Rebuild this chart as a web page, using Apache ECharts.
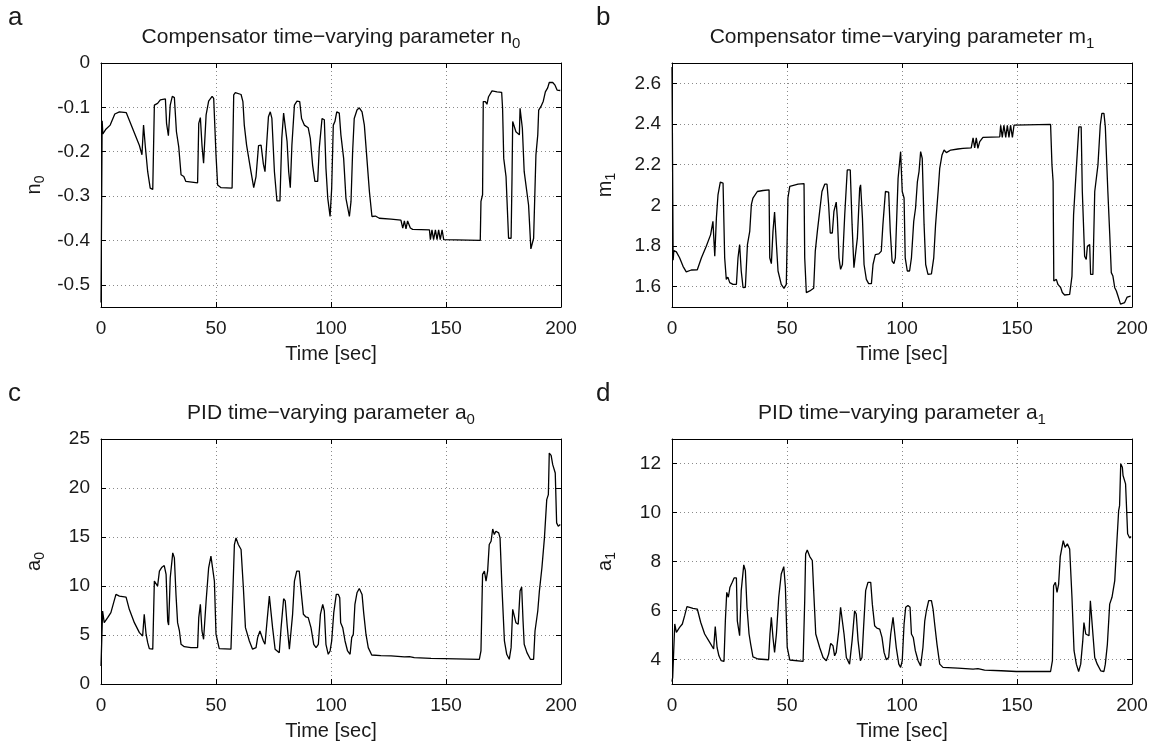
<!DOCTYPE html>
<html><head><meta charset="utf-8">
<script src="https://cdn.jsdelivr.net/npm/echarts@6/dist/echarts.min.js"></script>
<style>html,body{margin:0;padding:0;background:#fff}#c{width:1158px;height:746px}</style>
</head><body><div id="c"></div>
<script>
// ---- data (time [sec], value) ----
const n0Data = [[0,-0.54],[0.5,-0.13],[0.8,-0.16],[2,-0.15],[4,-0.14],[6,-0.115],[8,-0.11],[11,-0.112],[16.7,-0.186],[17.8,-0.207],[18.5,-0.14],[19.3,-0.19],[20.3,-0.245],[21.4,-0.282],[22.5,-0.285],[23.2,-0.095],[23.9,-0.098],[24.6,-0.091],[25.8,-0.083],[28,-0.081],[28.5,-0.136],[29.3,-0.164],[30.1,-0.095],[31,-0.075],[31.9,-0.078],[32.8,-0.155],[33.8,-0.189],[34.8,-0.252],[36,-0.256],[36.9,-0.267],[42,-0.27],[42.5,-0.136],[43.2,-0.123],[43.9,-0.185],[44.6,-0.226],[45.7,-0.117],[46.8,-0.086],[48.3,-0.075],[49,-0.08],[50,-0.207],[50.7,-0.275],[52.2,-0.281],[57,-0.282],[57.7,-0.072],[58.4,-0.067],[60.9,-0.071],[61.7,-0.087],[62.3,-0.14],[63.3,-0.185],[65.2,-0.245],[66.4,-0.281],[67.4,-0.256],[68.5,-0.186],[69.6,-0.185],[70.6,-0.228],[71.3,-0.245],[72,-0.185],[72.8,-0.121],[73.6,-0.11],[74.3,-0.125],[75.4,-0.245],[76.5,-0.311],[77.8,-0.311],[78.6,-0.17],[79.4,-0.113],[80.1,-0.117],[80.9,-0.177],[81.6,-0.245],[82.3,-0.281],[83,-0.185],[84.1,-0.095],[85.2,-0.086],[86.4,-0.087],[87.2,-0.125],[88.4,-0.14],[90.1,-0.146],[91,-0.17],[92,-0.23],[93,-0.267],[94.2,-0.267],[94.9,-0.192],[96.1,-0.125],[97.1,-0.128],[97.8,-0.237],[98.6,-0.305],[99.6,-0.346],[100.3,-0.282],[101,-0.14],[101.7,-0.132],[102.5,-0.11],[103.6,-0.113],[104.3,-0.162],[105.5,-0.215],[106.5,-0.305],[108,-0.346],[108.7,-0.312],[109.4,-0.2],[110.1,-0.125],[111.3,-0.106],[112.3,-0.101],[113.5,-0.11],[114.5,-0.14],[115.6,-0.215],[116.7,-0.29],[117.8,-0.346],[119.3,-0.345],[121,-0.35],[126.1,-0.352],[130.4,-0.354],[131.2,-0.372],[131.9,-0.356],[132.6,-0.374],[133.3,-0.356],[134.5,-0.372],[135.5,-0.375],[142.8,-0.376],[143.2,-0.398],[143.9,-0.376],[144.6,-0.398],[145.4,-0.376],[146.1,-0.398],[146.8,-0.376],[147.5,-0.398],[148.3,-0.376],[149,-0.398],[149.7,-0.398],[164.9,-0.4],[165.2,-0.312],[165.9,-0.297],[166.2,-0.087],[167.1,-0.087],[167.8,-0.093],[168.5,-0.076],[169.3,-0.076],[170,-0.063],[172.2,-0.065],[174.2,-0.066],[174.6,-0.102],[175.1,-0.215],[176.1,-0.256],[177.2,-0.395],[178.3,-0.395],[178.7,-0.26],[179,-0.132],[179.7,-0.131],[180.4,-0.155],[181.2,-0.158],[181.9,-0.162],[182.2,-0.102],[182.9,-0.101],[183.2,-0.147],[184,-0.245],[185.9,-0.32],[186.9,-0.419],[187.7,-0.421],[188.1,-0.395],[188.8,-0.395],[189.1,-0.207],[189.9,-0.162],[190.3,-0.106],[191.3,-0.098],[192.3,-0.086],[193.2,-0.065],[194.2,-0.056],[194.9,-0.044],[196.4,-0.044],[197.4,-0.05],[198.3,-0.061],[199.7,-0.062]];

const m1Data = [[0,2.68],[0.5,1.73],[0.8,1.778],[1.9,1.771],[3.3,1.742],[4.8,1.70],[6.2,1.673],[8.4,1.682],[11,1.683],[12.8,1.742],[14.9,1.799],[16.8,1.856],[17.8,1.921],[18.6,1.75],[19.3,1.938],[20,2.052],[21,2.114],[22.2,2.109],[22.9,1.742],[23.6,1.636],[24.3,1.647],[25.1,1.62],[26.5,1.611],[28,1.611],[28.7,1.742],[29.4,1.807],[30.1,1.677],[30.9,1.595],[31.9,1.597],[32.8,1.807],[33.8,1.872],[34.5,2.003],[35.2,2.036],[35.9,2.036],[37.1,2.068],[39.6,2.073],[42.2,2.076],[42.5,1.742],[43.2,1.713],[43.9,1.872],[44.6,1.967],[45.4,1.807],[46.1,1.677],[47.5,1.611],[48.7,1.592],[49.7,1.611],[50.4,2.036],[51.2,2.093],[51.9,2.101],[54.8,2.104],[57.4,2.107],[57.7,1.742],[58.4,1.571],[59.9,1.579],[61.6,1.592],[62.3,1.775],[63.2,1.872],[64.2,1.97],[65.2,2.068],[66.4,2.104],[67.4,2.104],[68.1,2.003],[68.8,1.864],[69.7,1.864],[70.4,1.97],[71.4,2.016],[71.9,1.938],[72.6,1.742],[73.3,1.685],[74.1,1.709],[75.1,1.954],[76.2,2.174],[77.5,2.174],[78.3,1.905],[79.1,1.693],[79.9,1.693],[80.6,1.84],[81.6,2.084],[82,2.101],[82.8,1.938],[83.5,1.709],[84.5,1.636],[85.5,1.615],[86.7,1.615],[87.4,1.709],[88.4,1.758],[89.9,1.761],[91,1.775],[91.7,1.905],[92.8,2.068],[94.2,2.065],[94.9,1.872],[95.7,1.726],[96.5,1.713],[97.1,1.742],[98.3,2.133],[99.4,2.264],[100.1,2.068],[100.9,2.036],[101.4,1.742],[102.3,1.677],[103.3,1.677],[104.1,1.742],[105.1,1.921],[105.9,1.987],[106.7,2.117],[107.4,2.166],[108.1,2.264],[108.8,2.231],[109.6,1.905],[110.3,1.709],[111.3,1.66],[112.8,1.663],[113.8,1.742],[114.6,1.905],[115.7,2.068],[116.4,2.182],[117.4,2.248],[118.3,2.272],[119.3,2.259],[121.2,2.272],[124.3,2.277],[126.5,2.28],[130.1,2.283],[130.9,2.332],[131.6,2.283],[132.3,2.332],[133,2.28],[133.8,2.313],[135.2,2.334],[142.5,2.337],[142.9,2.394],[143.6,2.334],[144.3,2.394],[145.1,2.334],[145.8,2.394],[146.5,2.334],[147.2,2.394],[148,2.334],[148.7,2.394],[149.4,2.398],[164.6,2.398],[165.2,2.199],[165.7,2.117],[166,1.628],[167.1,1.636],[167.8,1.611],[169,1.595],[169.7,1.571],[170.7,1.559],[172.9,1.562],[173.9,1.652],[174.6,1.954],[175.8,2.182],[176.9,2.386],[177.9,2.386],[178.4,2.068],[179.4,1.75],[180.1,1.734],[180.6,1.799],[181.6,1.807],[182,1.66],[183,1.66],[183.8,2.068],[185.2,2.199],[186.2,2.394],[186.9,2.452],[187.8,2.452],[188.4,2.386],[188.9,2.386],[189.5,2.068],[190.3,1.864],[191,1.669],[191.7,1.652],[192.5,1.595],[193.2,1.579],[193.9,1.554],[195,1.514],[195.8,1.511],[196.8,1.522],[197.9,1.549],[199.4,1.554]];

const a0Data = [[0,1.84],[0.7,7.45],[1.4,6.26],[2.9,6.77],[4.3,7.28],[5.5,8.3],[6.5,9.14],[8,8.97],[10.9,8.87],[12.3,7.62],[14.5,6.26],[16.7,5.24],[18.1,4.9],[18.8,7.11],[19.6,5.08],[20.3,4.22],[21,3.61],[22.5,3.55],[23.2,10.5],[23.9,10.67],[24.6,9.99],[25.4,11.52],[26.5,11.92],[27.5,12.09],[28.3,11.18],[29,6.43],[29.4,6.02],[30.1,10.84],[31.2,13.38],[31.9,12.87],[32.6,9.14],[33.3,6.26],[34.1,5.41],[34.8,4.05],[36.2,3.81],[39.1,3.71],[42,3.71],[42.5,6.77],[43.2,8.13],[43.9,5.41],[44.6,4.56],[45.7,8.47],[46.8,11.86],[47.8,13.05],[48.6,13.22],[49.3,10.5],[50,5.08],[51.4,3.61],[56.5,3.55],[57.2,8.47],[58,14.23],[58.7,14.91],[59.7,14.23],[60.9,13.72],[61.9,9.82],[62.8,5.75],[64.5,4.39],[65.9,3.55],[67.4,3.71],[68.1,4.73],[69.1,5.41],[69.9,5.41],[70.6,4.39],[71.3,4.05],[72.2,6.43],[73.2,8.97],[73.9,8.8],[74.6,5.75],[75.7,3.55],[77.5,3.2],[78.3,5.75],[79.4,8.7],[80.1,8.47],[80.9,6.09],[81.9,3.55],[82.6,3.71],[83.3,7.11],[84.1,10.5],[85.1,11.52],[86.2,11.52],[87,9.48],[88,7.11],[89.1,6.84],[90.1,6.77],[91.3,5.75],[92.5,4.05],[93.5,3.71],[94.5,4.05],[95.4,7.11],[96.4,8.13],[97.1,7.45],[97.8,4.05],[98.8,3.03],[99.6,3.37],[100.3,4.39],[101.2,7.28],[101.7,8.13],[102.3,9.14],[103.2,9.14],[103.8,8.8],[104.2,6.26],[105.1,5.75],[106.1,4.39],[107.2,3.37],[108.3,3.03],[109,4.73],[109.7,5.08],[110.4,8.13],[111.3,9.31],[112.3,9.75],[113.5,9.14],[114.2,7.28],[115.2,5.08],[116.2,3.71],[117.7,2.96],[121.7,2.89],[126.1,2.86],[131.9,2.76],[134.1,2.8],[136.2,2.69],[143.5,2.62],[149.3,2.59],[164.5,2.52],[165.2,3.37],[165.9,11.18],[166.7,11.52],[167.4,10.5],[168.1,11.52],[168.8,14.23],[169.6,14.57],[170.3,15.82],[171,15.25],[171.7,15.59],[172.9,15.42],[173.5,14.91],[174.3,9.99],[175.4,4.39],[176.4,3.03],[177.5,2.52],[178.3,3.71],[179,7.62],[179.7,7.72],[180.4,6.26],[181.4,6.09],[182.2,9.48],[182.9,9.89],[183.5,6.43],[184,4.05],[185.2,3.2],[186.7,2.52],[188.1,2.52],[188.7,5.41],[189.9,7.45],[190.6,9.48],[191.7,11.86],[192.8,14.91],[193.8,18.81],[194.5,19.32],[194.9,23.56],[195.7,23.33],[196.4,22.38],[197.1,22.38],[197.5,21.53],[198.1,16.44],[198.8,16.1],[199.7,16.27]];

const a1Data = [[0,3.1],[0.3,3.27],[1.2,5.45],[1.9,5.11],[3.3,5.31],[4.5,5.45],[5.5,5.79],[6.5,6.16],[7.7,6.13],[9.1,6.09],[11,6.06],[12.5,5.51],[14.2,5.04],[16.4,4.70],[18.1,4.43],[18.8,5.34],[19.6,4.49],[20.4,4.15],[21.4,3.95],[22.6,3.92],[23.2,5.58],[23.8,6.74],[24.5,6.54],[25.2,6.95],[26.2,7.15],[27,7.33],[28,7.33],[28.4,5.58],[29.4,4.97],[30.1,6.81],[31.2,7.86],[31.9,7.63],[32.6,6.13],[33.5,5.04],[34.2,4.63],[35.2,4.11],[37.4,4.02],[42,3.99],[42.6,5.04],[43.2,5.72],[43.9,4.90],[44.6,4.29],[45.4,5.04],[46.4,6.54],[47.5,7.49],[48.6,7.79],[49.3,6.95],[50.1,4.49],[51.2,3.98],[57,3.92],[57.7,6.40],[58.1,8.31],[58.8,8.47],[59.9,8.20],[61,8.04],[61.6,6.81],[62.5,5.04],[64.2,4.49],[65.7,4.08],[67.1,3.95],[68.1,4.22],[69,4.66],[70,4.56],[70.7,4.15],[71.4,4.29],[72.5,5.17],[73.3,6.13],[74.1,6.06],[74.8,5.04],[75.8,4.08],[77.2,3.81],[78.3,4.77],[79.4,5.99],[80.1,5.86],[80.9,4.77],[81.9,3.95],[82.6,4.08],[83.3,5.31],[84.2,6.81],[85.2,7.15],[86.4,7.15],[87.1,6.26],[88.1,5.38],[89.1,5.28],[90.3,5.24],[91.3,4.90],[92.2,4.29],[93.2,3.99],[94.2,4.08],[95.1,5.04],[96.1,5.72],[96.8,5.65],[97.5,4.49],[98.6,3.81],[99.4,3.68],[100.1,3.95],[100.9,5.45],[101.6,6.13],[102.6,6.20],[103.5,6.13],[104.1,5.04],[104.9,4.90],[105.8,4.36],[107,3.95],[108.1,3.74],[109.1,4.49],[109.9,5.58],[110.6,5.99],[111.6,6.40],[112.8,6.40],[113.5,6.06],[114.2,5.45],[115.2,4.63],[116.4,3.81],[117.8,3.68],[124.3,3.65],[130.9,3.61],[133,3.63],[135.9,3.57],[143.2,3.54],[149.7,3.51],[164.6,3.51],[165.4,3.95],[165.9,7.01],[166.7,7.15],[167.4,6.74],[168.1,7.08],[168.8,8.20],[169.6,8.27],[170.1,8.85],[170.9,8.58],[171.9,8.72],[172.9,8.51],[173.9,6.54],[174.8,4.36],[175.8,3.81],[176.8,3.51],[177.7,3.81],[178.6,4.77],[179.1,5.51],[179.9,5.04],[180.6,4.97],[181.3,4.97],[181.9,6.40],[182.6,6.47],[183,5.04],[183.8,4.08],[184.9,3.81],[186.4,3.54],[187.8,3.51],[188.4,3.81],[189.3,4.63],[190.3,6.26],[191.3,6.54],[192.5,7.22],[193.2,8.44],[194.2,10.08],[194.6,10.28],[195.1,11.99],[195.8,11.85],[196.1,11.51],[196.8,11.49],[197.2,11.17],[197.9,11.14],[198.1,9.13],[199,8.96],[199.6,9.02]];

const panelLetters = ['a', 'b', 'c', 'd'];
const panelTitles = [
  ['Compensator time\u2212varying parameter n', '0'],
  ['Compensator time\u2212varying parameter m', '1'],
  ['PID time\u2212varying parameter a', '0'],
  ['PID time\u2212varying parameter a', '1']
];
const yNames = [['n','0'], ['m','1'], ['a','0'], ['a','1']];
const xName = 'Time [sec]';
const xTickStep = 50;

// ---- layout / style ----
const FONT = '"Liberation Sans", Arial, Helvetica, sans-serif';
const FS = 19;      // tick labels
const FN = 20;      // axis names
const FT = 21;      // titles
const grids = [
  {left:101, top:63, width:460, height:244},
  {left:672, top:63, width:460, height:244},
  {left:101, top:439, width:460, height:245},
  {left:672, top:439, width:460, height:245}
];
const yCfg = [
  {min:-0.55, max:0, split:5, showMin:false, showMax:true},
  {min:1.5, max:2.7, split:6, showMin:false, showMax:false},
  {min:0, max:25, split:5, showMin:true, showMax:true},
  {min:3, max:13, split:5, showMin:false, showMax:false}
];
const seriesData = [n0Data, m1Data, a0Data, a1Data];

function subRich(fs) {
  return {
    t: {fontSize: fs, fontFamily: FONT, color: '#1a1a1a'},
    s: {fontSize: Math.round(fs * 0.72), fontFamily: FONT, color: '#1a1a1a', padding: [Math.round(fs * 0.55), 0, 0, 0]}
  };
}

const xAxes = [], yAxes = [], series = [], titles = [];
grids.forEach((g, i) => {
  xAxes.push({
    gridIndex: i, type: 'value', min: 0, max: 200, interval: xTickStep, position: 'bottom',
    axisLine: {show: true, onZero: false, lineStyle: {color: '#000', width: 1}},
    axisTick: {show: true, inside: true, length: 5, lineStyle: {color: '#000'}},
    axisLabel: {fontSize: FS, fontFamily: FONT, color: '#1a1a1a', margin: 12},
    splitLine: {show: true, lineStyle: {type: [1, 3], color: '#8a8a8a', width: 1}},
    name: xName, nameLocation: 'middle', nameGap: 37,
    nameTextStyle: {fontSize: FN, fontFamily: FONT, color: '#1a1a1a'}
  });
  const c = yCfg[i];
  yAxes.push({
    gridIndex: i, type: 'value', min: c.min, max: c.max, splitNumber: c.split, position: 'left',
    axisLine: {show: true, onZero: false, lineStyle: {color: '#000', width: 1}},
    axisTick: {show: true, inside: true, length: 5, lineStyle: {color: '#000'}},
    axisLabel: {fontSize: FS, fontFamily: FONT, color: '#1a1a1a', margin: 11, showMinLabel: c.showMin, showMaxLabel: c.showMax},
    splitLine: {show: true, lineStyle: {type: [1, 3], color: '#8a8a8a', width: 1}},
    name: '{t|' + yNames[i][0] + '}{s|' + yNames[i][1] + '}', nameLocation: 'middle', nameGap: 54, nameRotate: 90,
    nameTextStyle: {fontSize: FN, fontFamily: FONT, color: '#1a1a1a', rich: subRich(FN)}
  });
  series.push({
    type: 'line', xAxisIndex: i, yAxisIndex: i, data: seriesData[i],
    showSymbol: false, symbol: 'none', lineStyle: {color: '#000', width: 1.3}, animation: false, clip: true
  });
  const cx = g.left + g.width / 2;
  titles.push({
    text: '{t|' + panelTitles[i][0] + '}{s|' + panelTitles[i][1] + '}',
    left: cx, top: g.top - 39, textAlign: 'center', padding: 0,
    textStyle: {fontSize: FT, fontWeight: 'normal', fontFamily: FONT, color: '#1a1a1a', rich: subRich(FT)}
  });
  titles.push({
    text: panelLetters[i], left: (i % 2 === 0) ? 8 : 596, top: g.top - 58, padding: 0,
    textStyle: {fontSize: 26, fontWeight: 'normal', fontFamily: FONT, color: '#1a1a1a'}
  });
});
grids.forEach((g, i) => {
  const c = yCfg[i];
  xAxes.push({
    gridIndex: i, type: 'value', min: 0, max: 200, interval: xTickStep, position: 'top',
    axisLine: {show: true, onZero: false, lineStyle: {color: '#000', width: 1}},
    axisTick: {show: true, inside: true, length: 5, lineStyle: {color: '#000'}},
    axisLabel: {show: false}, splitLine: {show: false}
  });
  yAxes.push({
    gridIndex: i, type: 'value', min: c.min, max: c.max, splitNumber: c.split, position: 'right',
    axisLine: {show: true, onZero: false, lineStyle: {color: '#000', width: 1}},
    axisTick: {show: true, inside: true, length: 5, lineStyle: {color: '#000'}},
    axisLabel: {show: false}, splitLine: {show: false}
  });
});

const chart = echarts.init(document.getElementById('c'), null, {renderer: 'canvas'});
chart.setOption({
  backgroundColor: '#fff',
  animation: false,
  title: titles,
  grid: grids.map(g => Object.assign({containLabel: false}, g)),
  xAxis: xAxes,
  yAxis: yAxes,
  series: series
});
</script></body></html>
